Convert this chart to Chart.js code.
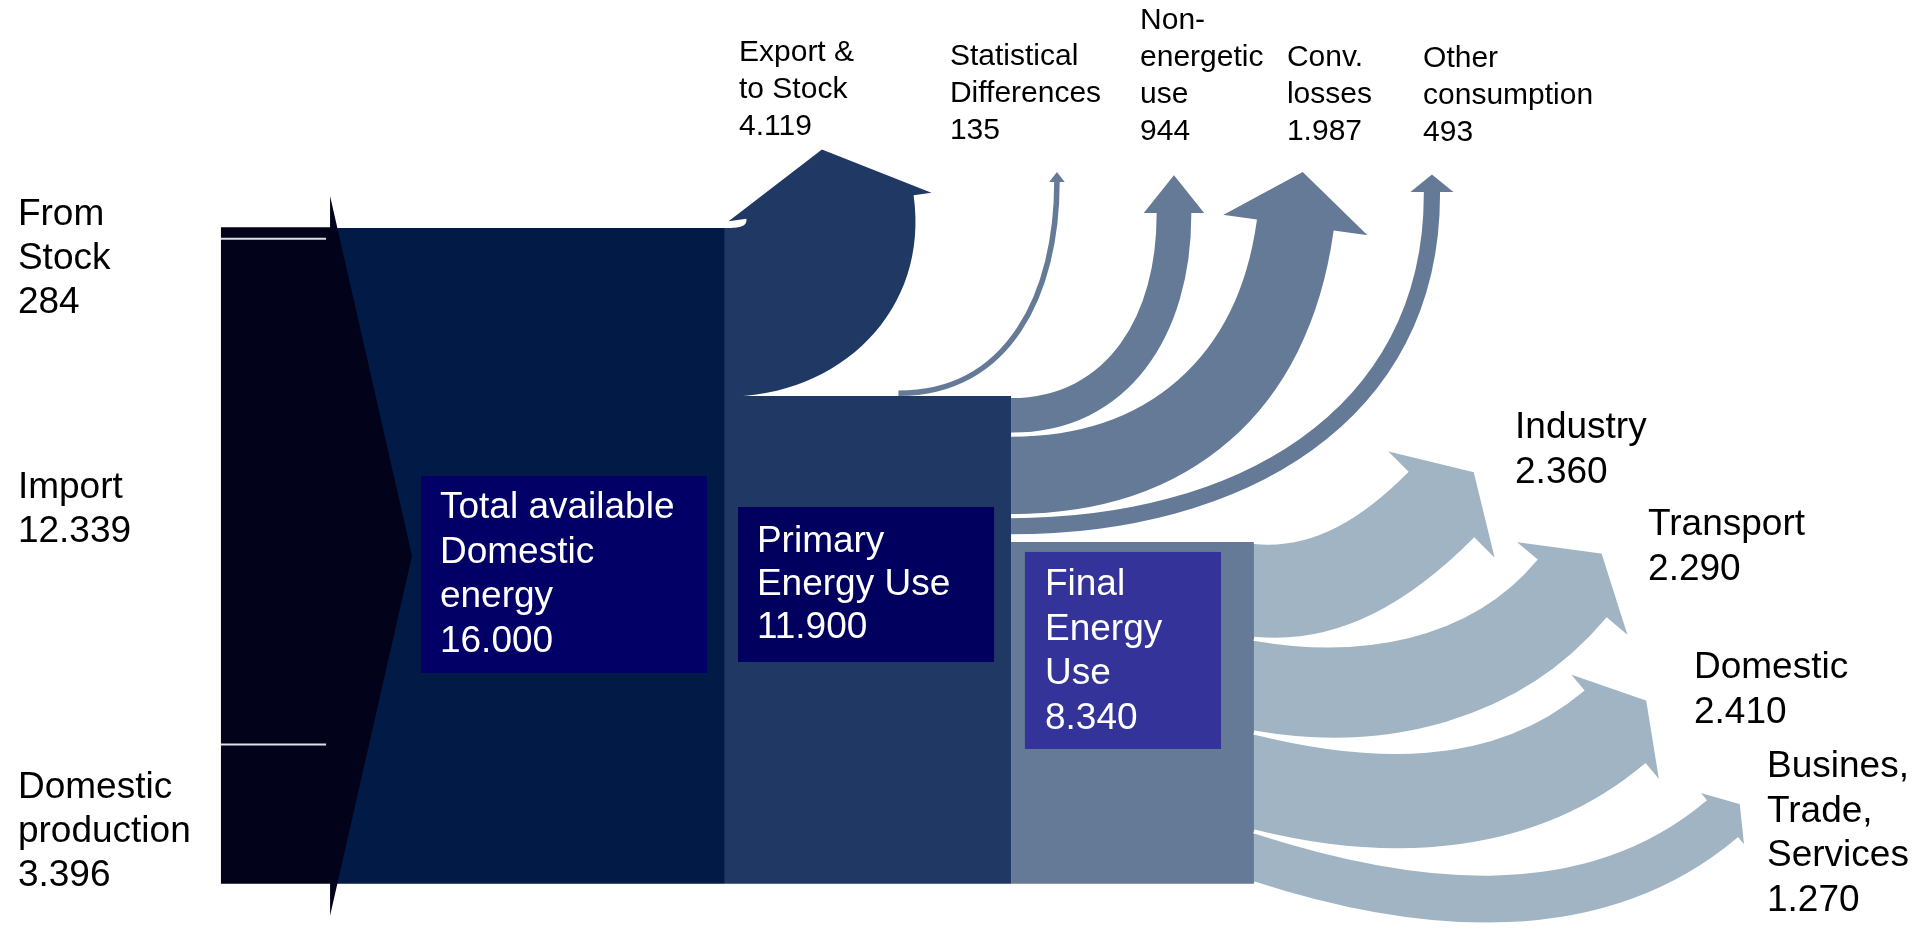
<!DOCTYPE html>
<html>
<head>
<meta charset="utf-8">
<title>Energy flow</title>
<script src="https://cdn.jsdelivr.net/npm/chart.js@4.4.1/dist/chart.umd.min.js"></script>
<style>
  html, body { margin: 0; padding: 0; background: #fff; }
  #wrap { width: 1928px; height: 933px; position: relative; }
</style>
</head>
<body>
<div id="wrap"><canvas id="flow"></canvas></div>
<script>
// energy balance, values as printed ('.' is the thousands separator)
const sourceNames = ['Domestic\nproduction', 'Import', 'From\nStock'];   // stacked bottom -> top
const sourceValues = [3396, 12339, 284];

const stageNames = ['Total available\nDomestic\nenergy', 'Primary\nEnergy Use', 'Final\nEnergy\nUse'];
const stageValues = [16000, 11900, 8340];

const lossNames = ['Export &\nto Stock', 'Statistical\nDifferences', 'Non-\nenergetic\nuse', 'Conv.\nlosses', 'Other\nconsumption'];
const lossValues = [4119, 135, 944, 1987, 493];

const sectorNames = ['Industry', 'Transport', 'Domestic', 'Busines,\nTrade,\nServices'];
const sectorValues = [2360, 2290, 2410, 1270];

// ---- layout: x on a 0..100 axis, y in energy units ----
const COL = { src: 11.46, total: 17.12, chevronTip: 21.37, primary: 37.6, final: 52.44, end: 65.04 };
const CHEVRON_OVERHANG = 32;

const stageBoxes = [
  { x0: 21.84, x1: 36.67, top: 9948, bottom: 5143, tx: 22.82, ty: 9168, lh: 44.5 },
  { x0: 38.28, x1: 51.56, top: 9192, bottom: 5411, tx: 39.26, ty: 8338, lh: 43 },
  { x0: 53.16, x1: 63.33, top: 8095, bottom: 3289, tx: 54.2, ty: 7289, lh: 44.5 }
];
const sourceLabels = [{ x: 0.93, y: 2338 }, { x: 0.93, y: 9656 }, { x: 0.93, y: 16315 }];
const lossLabels = [
  { x: 38.33, y: 20267 }, { x: 49.27, y: 20170 }, { x: 59.13, y: 21048 },
  { x: 66.75, y: 20145 }, { x: 73.81, y: 20121 }
];
const sectorLabels = [
  { x: 78.58, y: 11119 }, { x: 85.48, y: 8753 }, { x: 87.86, y: 5265 }, { x: 91.65, y: 2850 }
];
// where each arrow shaft ends (x, y), its heading (deg clockwise from up) and head size in px
const lossArrows = [
  { x: 43.05, y: 16510, theta: -8, headLen: 58, barb: 18 },
  { x: 54.82, y: 17120, theta: 0, headLen: 10, barb: 5, from: 46.6 },
  { x: 60.89, y: 16315, theta: 0, headLen: 43, barb: 15 },
  { x: 67.17, y: 16023, theta: 8, headLen: 58, barb: 38 },
  { x: 74.27, y: 16828, theta: 0, headLen: 22, barb: 17 }
];
const sectorArrows = [
  { x: 74.69, y: 9217, theta: 45, headLen: 50, barb: 34, start: 6 },
  { x: 81.48, y: 7168, theta: 40, headLen: 50, barb: 32, start: 10 },
  { x: 83.69, y: 3801, theta: 50, headLen: 45, barb: 26, start: 14 },
  { x: 89.26, y: 1557, theta: 50, headLen: 27, barb: 14, start: 18 }
];

const stageColors = ['#021B46', '#1F3864', '#647A96'];
const boxColors = ['#020066', '#01005F', '#333399'];
const sourceColor = '#02031A';
const exportColor = '#1F3864';
const lossColor = '#647A96';
const sectorColor = '#A0B4C3';
const FONT = '"Liberation Sans", Arial, sans-serif';

const fmt = v => String(v).replace(/\B(?=(\d{3})+(?!\d))/g, '.');

function drawLines(ctx, lines, x, y, lh) {
  lines.forEach((t, i) => ctx.fillText(t, x, y + i * lh));
}

// curved band leaving a vertical edge at x0 between yTop and yBot, ending in an arrow head
function arrowPath(ctx, o) {
  const t = o.theta * Math.PI / 180, s = (o.start || 0) * Math.PI / 180;
  const dx = Math.sin(t), dy = -Math.cos(t);
  const nx = Math.cos(t), ny = Math.sin(t);
  const sx = Math.cos(s), sy = Math.sin(s);
  const hw = o.w / 2;
  const L = [o.cx - nx * hw, o.cy - ny * hw];
  const R = [o.cx + nx * hw, o.cy + ny * hw];
  const ctrl = (p0, p3) => {
    const c = Math.hypot(p3[0] - p0[0], p3[1] - p0[1]) * o.bend;
    return [[p0[0] + sx * c, p0[1] + sy * c], [p3[0] - dx * c, p3[1] - dy * c]];
  };
  const a = ctrl([o.x0, o.yTop], L);
  const b = ctrl([o.x0, o.yBot], R);
  const tip = [o.cx + dx * o.headLen, o.cy + dy * o.headLen];
  const bl = [o.cx - nx * (hw + o.barb), o.cy - ny * (hw + o.barb)];
  const br = [o.cx + nx * (hw + o.barb), o.cy + ny * (hw + o.barb)];
  ctx.beginPath();
  ctx.moveTo(o.x0, o.yTop);
  ctx.bezierCurveTo(a[0][0], a[0][1], a[1][0], a[1][1], L[0], L[1]);
  ctx.lineTo(bl[0], bl[1]);
  ctx.lineTo(tip[0], tip[1]);
  ctx.lineTo(br[0], br[1]);
  ctx.lineTo(R[0], R[1]);
  ctx.bezierCurveTo(b[1][0], b[1][1], b[0][0], b[0][1], o.x0, o.yBot);
}

const flowPlugin = {
  id: 'energyFlow',
  afterDatasetsDraw(chart) {
    const ctx = chart.ctx;
    const X = v => chart.scales.x.getPixelForValue(v);
    const Y = v => chart.scales.y.getPixelForValue(v);
    const k = Y(0) - Y(1);
    ctx.save();

    // sources column with the chevron pointing into the total
    const srcTotal = sourceValues.reduce((a, b) => a + b, 0);
    ctx.fillStyle = sourceColor;
    ctx.beginPath();
    ctx.moveTo(X(COL.src), Y(0));
    ctx.lineTo(X(COL.src), Y(srcTotal));
    ctx.lineTo(X(COL.total), Y(srcTotal));
    ctx.lineTo(X(COL.total), Y(stageValues[0]) - CHEVRON_OVERHANG);
    ctx.lineTo(X(COL.chevronTip), Y(stageValues[0] / 2));
    ctx.lineTo(X(COL.total), Y(0) + CHEVRON_OVERHANG);
    ctx.lineTo(X(COL.total), Y(0));
    ctx.closePath();
    ctx.fill();

    ctx.strokeStyle = '#DCE1E8';
    ctx.lineWidth = 2;
    let acc = 0;
    for (let i = 0; i < sourceValues.length - 1; i++) {
      acc += sourceValues[i];
      ctx.beginPath();
      ctx.moveTo(X(COL.src), Y(acc));
      ctx.lineTo(X(COL.total) - 4, Y(acc));
      ctx.stroke();
    }

    // export leaves the gap between total and primary
    const ex = lossArrows[0];
    ctx.fillStyle = exportColor;
    arrowPath(ctx, {
      x0: X(COL.primary), yTop: Y(stageValues[0]), yBot: Y(stageValues[0] - lossValues[0]),
      cx: X(ex.x), cy: Y(ex.y), theta: ex.theta, w: lossValues[0] * k,
      headLen: ex.headLen, barb: ex.barb, bend: 0.42
    });
    ctx.fill();

    // statistical differences: thin line off the top of the primary block
    const st = lossArrows[1];
    const sw = lossValues[1] * k;
    const s0 = [X(st.from), Y(stageValues[1]) - sw / 2];
    const s1 = [X(st.x), Y(st.y)];
    const sc = Math.hypot(s1[0] - s0[0], s1[1] - s0[1]) * 0.42;
    ctx.strokeStyle = lossColor;
    ctx.lineWidth = sw;
    ctx.beginPath();
    ctx.moveTo(s0[0], s0[1]);
    ctx.bezierCurveTo(s0[0] + sc, s0[1], s1[0], s1[1] + sc, s1[0], s1[1]);
    ctx.stroke();
    ctx.fillStyle = lossColor;
    ctx.beginPath();
    ctx.moveTo(s1[0] - sw / 2 - st.barb, s1[1]);
    ctx.lineTo(s1[0], s1[1] - st.headLen);
    ctx.lineTo(s1[0] + sw / 2 + st.barb, s1[1]);
    ctx.closePath();
    ctx.fill();

    // losses between primary and final, stacked down from the primary top
    let top = stageValues[1];
    ctx.strokeStyle = '#fff';
    ctx.lineWidth = 4;
    for (let i = 2; i < lossValues.length; i++) {
      const a = lossArrows[i];
      arrowPath(ctx, {
        x0: X(COL.final), yTop: Y(top), yBot: Y(top - lossValues[i]),
        cx: X(a.x), cy: Y(a.y), theta: a.theta, w: lossValues[i] * k,
        headLen: a.headLen, barb: a.barb, bend: 0.42
      });
      ctx.fillStyle = lossColor;
      ctx.fill();
      ctx.stroke();
      top -= lossValues[i];
    }

    // final use by sector
    top = stageValues[2];
    const bands = sectorValues.map((v, i) => {
      const b = { y0: top, y1: top - v };
      top -= v;
      return b;
    });
    for (let i = sectorValues.length - 1; i >= 0; i--) {
      const a = sectorArrows[i];
      arrowPath(ctx, {
        x0: X(COL.end), yTop: Y(bands[i].y0), yBot: Y(bands[i].y1),
        cx: X(a.x), cy: Y(a.y), theta: a.theta, start: a.start, w: sectorValues[i] * k,
        headLen: a.headLen, barb: a.barb, bend: 0.36
      });
      ctx.fillStyle = sectorColor;
      ctx.fill();
      ctx.stroke();
    }

    // stage boxes
    ctx.textBaseline = 'middle';
    ctx.textAlign = 'left';
    stageBoxes.forEach((b, i) => {
      ctx.fillStyle = boxColors[i];
      ctx.fillRect(X(b.x0), Y(b.top), X(b.x1) - X(b.x0), Y(b.bottom) - Y(b.top));
      ctx.fillStyle = '#fff';
      ctx.font = '37px ' + FONT;
      drawLines(ctx, stageNames[i].split('\n').concat(fmt(stageValues[i])), X(b.tx), Y(b.ty), b.lh);
    });

    // labels
    ctx.fillStyle = '#000';
    ctx.font = '37px ' + FONT;
    sourceLabels.forEach((p, i) => {
      drawLines(ctx, sourceNames[i].split('\n').concat(fmt(sourceValues[i])), X(p.x), Y(p.y), 44);
    });
    sectorLabels.forEach((p, i) => {
      drawLines(ctx, sectorNames[i].split('\n').concat(fmt(sectorValues[i])), X(p.x), Y(p.y), 44.5);
    });
    ctx.font = '30px ' + FONT;
    lossLabels.forEach((p, i) => {
      drawLines(ctx, lossNames[i].split('\n').concat(fmt(lossValues[i])), X(p.x), Y(p.y), 37);
    });

    ctx.restore();
  }
};

// the three stage blocks, filled down to zero
const bounds = [[COL.total, COL.primary], [COL.primary, COL.final], [COL.final, COL.end]];
const datasets = stageValues.map((v, i) => ({
  label: stageNames[i].replace(/\n/g, ' '),
  data: [
    { x: bounds[i][0], y: 0 }, { x: bounds[i][0], y: v },
    { x: bounds[i][1], y: v }, { x: bounds[i][1], y: 0 }
  ],
  backgroundColor: stageColors[i],
  borderColor: 'rgba(0,0,0,0)',
  borderWidth: 0,
  pointRadius: 0,
  fill: 'origin',
  tension: 0
}));

new Chart(document.getElementById('flow'), {
  type: 'line',
  data: { datasets },
  options: {
    responsive: true,
    maintainAspectRatio: false,
    animation: false,
    devicePixelRatio: 1,
    layout: { padding: 0 },
    scales: {
      x: { type: 'linear', min: 0, max: 100, display: false },
      y: { type: 'linear', min: -1200, max: 21560, display: false }
    },
    plugins: { legend: { display: false }, tooltip: { enabled: false } }
  },
  plugins: [flowPlugin]
});
</script>
</body>
</html>
